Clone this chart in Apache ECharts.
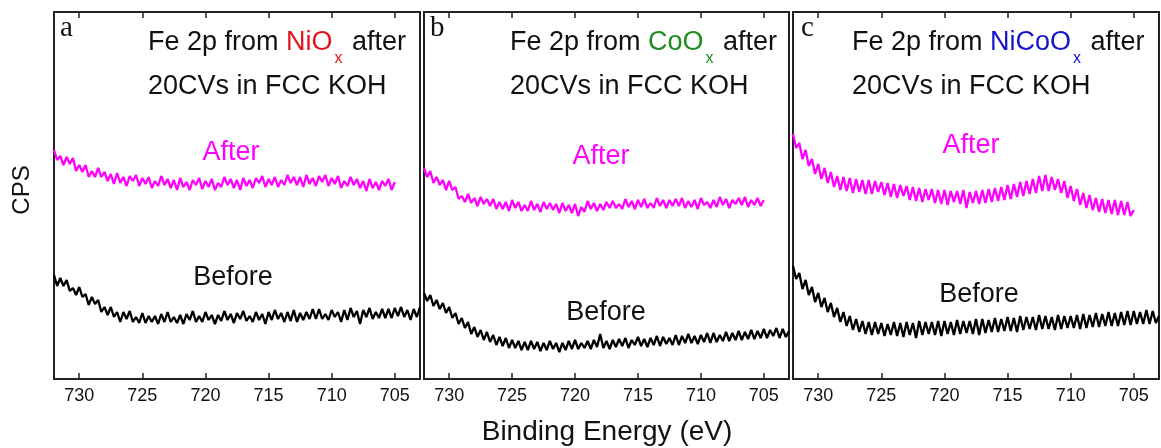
<!DOCTYPE html>
<html>
<head>
<meta charset="utf-8">
<script src="https://cdn.jsdelivr.net/npm/echarts@6/dist/echarts.min.js"></script>
<style>html,body{margin:0;padding:0;background:#fff}#c{width:1161px;height:448px}</style>
</head>
<body>
<div id="c"></div>
<script>
// Binding energy grid of the spectra (eV), high to low
const energyStart = 732;
const energyStep = 0.25;
const tickValues = [730, 725, 720, 715, 710, 705];
const panelLetters = ['a', 'b', 'c'];
const sourceNames = ['NiO', 'CoO', 'NiCoO'];
const xAxisTitle = 'Binding Energy (eV)';
const yAxisTitle = 'CPS';

// CPS (arbitrary units), one value per energy step
const aAfter = [
229,219,223,214, 222,215,221,208, 214,207,214,202, 208,202,211,202, 207,198,205,195,
206,196,202,193, 203,198,204,193, 201,195,202,191, 198,193,203,194, 200,191,199,189,
201,192,197,189, 199,194,201,190, 198,192,200,189, 196,192,202,194, 200,191,199,189,
201,193,199,191, 201,196,203,192, 200,194,202,192, 199,194,204,196, 202,194,202,192,
204,195,201,193, 203,197,204,193, 201,195,203,191, 198,193,202,194, 200,191,198,188,
200,191,197,189, 198,193,200,189, 197];
const aBefore = [
104,93,101,93, 99,88,91,84, 92,82,85,74, 82,75,79,67, 72,64,72,62,
67,57,67,60, 68,57,62,56, 66,56,63,57, 63,55,65,57, 67,57,62,56,
64,55,65,59, 68,57,63,57, 67,59,64,55, 64,58,68,59, 65,56,66,60,
68,58,63,57, 67,59,65,55, 67,59,69,60, 66,57,67,58, 69,57,66,59,
67,60,70,60, 70,60,65,59, 69,62,67,57, 69,59,71,62, 68,55,69,62,
71,60,67,61, 70,61,70,61, 71,63,72,62, 69,59,70,62, 72];
const bAfter = [
211,202,208,196, 202,194,199,189, 198,189,192,180, 183,177,185,176, 181,173,182,175,
180,173,180,170, 177,170,177,168, 179,171,177,168, 174,168,178,169, 175,167,177,170,
176,169,175,166, 176,168,174,166, 175,163,172,167, 178,170,176,168, 175,169,177,171,
178,171,175,170, 180,172,178,170, 179,172,180,171, 176,171,181,173, 179,171,179,173,
180,173,181,171, 178,172,179,170, 181,174,177,171, 179,172,182,174, 180,171,179,175,
181,174,182,172, 179,174,181,173, 179];
const bBefore = [
86,78,84,73, 79,70,76,66, 72,61,66,55, 61,51,57,45, 52,42,49,39,
47,37,44,34, 42,33,41,31, 39,31,38,29, 37,29,38,30, 37,28,36,29,
38,30,36,27, 36,29,38,30, 39,30,36,31, 38,30,39,32, 45,31,38,30,
39,32,40,33, 41,31,39,34, 42,33,40,32, 41,34,43,33, 42,35,41,34,
44,34,43,36, 45,36,43,35, 44,37,46,36, 46,37,44,38, 47,38,46,39,
48,39,47,40, 49,40,48,41, 50,41,49,43, 51,41,50,42, 48];
const cAfter = [
245,231,236,220, 229,213,220,205, 215,200,211,196, 207,192,203,189, 202,188,201,186,
200,187,199,185, 199,185,198,187, 197,184,196,182, 195,181,194,183, 193,179,192,178,
191,177,190,179, 190,176,189,175, 189,174,188,177, 188,175,189,171, 187,176,188,175,
189,176,190,177, 191,178,192,179, 194,180,195,182, 197,183,198,185, 200,186,203,188,
204,188,202,189, 200,186,198,181, 193,178,190,174, 186,171,184,169, 181,167,180,166,
179,165,179,164, 178,164,177,163, 169];
const cBefore = [
113,100,106,90, 99,84,92,77, 86,72,81,67, 76,62,71,57, 67,53,63,49,
60,47,58,45, 57,44,57,45, 56,43,55,44, 57,43,56,42, 57,44,56,41,
58,44,57,45, 57,44,58,43, 58,45,57,44, 59,45,58,46, 58,45,60,44,
60,46,59,47, 61,47,60,48, 62,48,61,47, 63,49,62,50, 62,49,64,50,
63,50,62,49, 64,50,63,51, 63,51,64,50, 65,51,64,52, 66,52,65,53,
67,53,66,53, 67,54,68,54, 68,55,67,55, 69,55,68,56, 63];

const FONT = '"Liberation Sans", Arial, sans-serif';
const SERIF = '"Liberation Serif", "Times New Roman", serif';
const INK = '#111';
const AFTER_COLOR = '#ff00ff';
const BEFORE_COLOR = '#000000';
const sourceColors = ['#e3141b', '#1e8c1e', '#1414cc'];

function toPairs(values) {
  return values.map((v, i) => [energyStart - i * energyStep, v]);
}

const gridBoxes = [
  {left: 54, top: 12, width: 366, height: 367},
  {left: 424, top: 12, width: 365, height: 367},
  {left: 793, top: 12, width: 366, height: 367}
];
const curves = [[aAfter, aBefore], [bAfter, bBefore], [cAfter, cBefore]];

const grid = gridBoxes.map(b => Object.assign({show: true, borderColor: '#222', borderWidth: 2, backgroundColor: 'transparent'}, b));
const xAxis = [];
const yAxis = [];
const series = [];
gridBoxes.forEach((b, i) => {
  const base = {
    gridIndex: i, type: 'value', min: 703, max: 732, inverse: true,
    axisLine: {show: false}, splitLine: {show: false},
    axisTick: {show: true, inside: true, length: 6, customValues: tickValues, lineStyle: {color: '#222', width: 1.5}}
  };
  xAxis.push(Object.assign({}, base, {
    position: 'bottom',
    axisLabel: {show: true, customValues: tickValues, fontSize: 18, color: INK, fontFamily: FONT, margin: 8}
  }));
  xAxis.push(Object.assign({}, base, {position: 'top', axisLabel: {show: false}}));
  yAxis.push({gridIndex: i, type: 'value', min: 0, max: 367, show: false});
  series.push({type: 'line', xAxisIndex: 2 * i, yAxisIndex: i, data: toPairs(curves[i][0]), showSymbol: false, symbol: 'none',
    lineStyle: {color: AFTER_COLOR, width: 2.3, join: 'bevel'}, itemStyle: {color: AFTER_COLOR}, silent: true});
  series.push({type: 'line', xAxisIndex: 2 * i, yAxisIndex: i, data: toPairs(curves[i][1]), showSymbol: false, symbol: 'none',
    lineStyle: {color: BEFORE_COLOR, width: 2.3, join: 'bevel'}, itemStyle: {color: BEFORE_COLOR}, silent: true});
});

const letterX = [60, 430, 801];
const titleX = [148, 510, 852];
const afterPos = [[231, 153], [601, 157], [971, 146]];
const beforePos = [[233, 278], [606, 313], [979, 295]];

const graphic = [];
for (let i = 0; i < 3; i++) {
  graphic.push({type: 'text', x: letterX[i], y: 28, style: {text: panelLetters[i], font: '29px ' + SERIF, fill: INK, textAlign: 'left', textVerticalAlign: 'middle'}});
  graphic.push({type: 'text', x: titleX[i], y: 43, style: {
    text: '{k|Fe 2p from }{r|' + sourceNames[i] + '}{s|x}{k| after}',
    textAlign: 'left', textVerticalAlign: 'middle',
    rich: {
      k: {fontSize: 27, fontFamily: FONT, fill: INK, color: INK},
      r: {fontSize: 27, fontFamily: FONT, fill: sourceColors[i], color: sourceColors[i]},
      s: {fontSize: 16, fontFamily: FONT, fill: sourceColors[i], color: sourceColors[i], padding: [32, 2, 0, 2]}
    }
  }});
  graphic.push({type: 'text', x: titleX[i], y: 87, style: {text: '20CVs in FCC KOH', font: '27px ' + FONT, fill: INK, textAlign: 'left', textVerticalAlign: 'middle'}});
  graphic.push({type: 'text', x: afterPos[i][0], y: afterPos[i][1], style: {text: 'After', font: '27px ' + FONT, fill: AFTER_COLOR, textAlign: 'center', textVerticalAlign: 'middle'}});
  graphic.push({type: 'text', x: beforePos[i][0], y: beforePos[i][1], style: {text: 'Before', font: '27px ' + FONT, fill: INK, textAlign: 'center', textVerticalAlign: 'middle'}});
}
graphic.push({type: 'text', x: 607, y: 432, style: {text: xAxisTitle, font: '28px ' + FONT, fill: INK, textAlign: 'center', textVerticalAlign: 'middle'}});
graphic.push({type: 'text', x: 22, y: 190, rotation: Math.PI / 2, style: {text: yAxisTitle, font: '24px ' + FONT, fill: INK, textAlign: 'center', textVerticalAlign: 'middle'}});

const chart = echarts.init(document.getElementById('c'), null, {renderer: 'canvas'});
chart.setOption({animation: false, backgroundColor: '#fff', grid, xAxis, yAxis, series, graphic});
</script>
</body>
</html>
